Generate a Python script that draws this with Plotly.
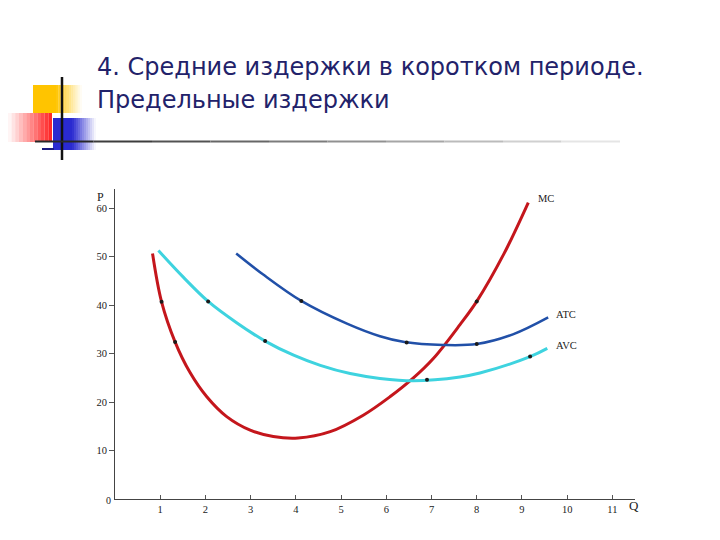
import plotly.graph_objects as go

# curves (Q, P)
mc_q = [0.83, 1.03, 1.33, 1.66, 2.03, 2.47, 2.99, 3.5, 4.05, 4.76, 5.49, 6.08, 6.6, 7.04, 7.63, 8.0, 8.6, 9.14]
mc_p = [50.7, 40.7, 32.4, 26.1, 21.1, 17.0, 14.2, 12.9, 12.6, 13.9, 17.3, 21.1, 25.0, 29.0, 36.0, 40.8, 50.6, 61.2]

atc_q = [2.68, 3.27, 4.12, 5.13, 5.86, 6.4, 7.26, 8.0, 8.8, 9.58]
atc_p = [50.7, 46.4, 40.9, 36.2, 33.6, 32.4, 31.8, 32.0, 34.0, 37.5]

avc_q = [0.96, 1.51, 2.06, 2.69, 3.32, 3.95, 4.54, 5.2, 5.86, 6.6, 7.63, 8.07, 9.18, 9.56]
avc_p = [51.3, 45.8, 40.8, 36.4, 32.6, 29.7, 27.6, 25.9, 24.9, 24.4, 25.2, 26.0, 29.4, 31.1]

# little black marks sitting on the curves
dot_q = [1.03, 1.33, 8.0, 4.12, 6.45, 8.0, 2.06, 3.32, 6.9, 9.18]
dot_p = [40.7, 32.4, 40.8, 40.9, 32.3, 32.0, 40.8, 32.6, 24.6, 29.4]

x_ticks = [1, 2, 3, 4, 5, 6, 7, 8, 9, 10, 11]
y_ticks = [10, 20, 30, 40, 50, 60]

title_1 = "4. Средние издержки в коротком периоде."
title_2 = "Предельные издержки"

# page has an 8px body margin, so the figure is 16px smaller than the window
OFF = 8
W, H = 704, 524
ML, MR, MT, MB = 107, 77, 181, 33
PW, PH = W - ML - MR, H - MT - MB


def px(x):
    return (x - OFF - ML) / PW


def py(y):
    return (H - MB - (y - OFF)) / PH


serif = "Liberation Serif"

fig = go.Figure()
fig.add_trace(go.Scatter(x=mc_q, y=mc_p, mode="lines", line=dict(color="#c4161c", width=3, shape="spline"), hoverinfo="skip"))
fig.add_trace(go.Scatter(x=atc_q, y=atc_p, mode="lines", line=dict(color="#2150a8", width=2.5, shape="spline"), hoverinfo="skip"))
fig.add_trace(go.Scatter(x=avc_q, y=avc_p, mode="lines", line=dict(color="#3ed3df", width=3, shape="spline"), hoverinfo="skip"))
fig.add_trace(go.Scatter(x=dot_q, y=dot_p, mode="markers", marker=dict(color="#1a1a1a", size=4), hoverinfo="skip"))

shapes = []


def rect(x0, y0, x1, y1, color, opacity=1.0):
    shapes.append(dict(type="rect", xref="paper", yref="paper", x0=px(x0), x1=px(x1), y0=py(y1), y1=py(y0),
                       fillcolor=color, opacity=opacity, line=dict(width=0), layer="above"))


def fade(x0, x1, y0, y1, color, left_solid, n=12):
    step = (x1 - x0) / n
    for i in range(n):
        a = (i + 0.5) / n
        op = a if not left_solid else 1 - a
        rect(x0 + i * step, y0, x0 + (i + 1) * step, y1, color, op)


# slide decoration
rect(33, 85, 56, 113, "#ffc400")
fade(56, 82, 85, 113, "#ffc400", True)
fade(8, 52, 113, 142, "#ff2020", False)
rect(53, 118, 72, 150, "#2a2ad0")
fade(72, 96, 118, 150, "#2a2ad0", True)
rect(42, 148, 54, 150, "#1a1a80")
shapes.append(dict(type="line", xref="paper", yref="paper", x0=px(62), x1=px(62), y0=py(77), y1=py(160),
                   line=dict(color="#111111", width=2.5)))
for i in range(10):
    a = 35 + i * 58.5
    g = int(40 + i * 21)
    shapes.append(dict(type="line", xref="paper", yref="paper", x0=px(a), x1=px(a + 58.5), y0=py(141.5), y1=py(141.5),
                       line=dict(color=f"rgb({g},{g},{g})", width=2)))

annotations = [
    dict(text=title_1, x=px(95), y=py(67), xref="paper", yref="paper", xanchor="left", yanchor="middle",
         showarrow=False, font=dict(family="DejaVu Sans", size=24, color="#22226a")),
    dict(text=title_2, x=px(95), y=py(100), xref="paper", yref="paper", xanchor="left", yanchor="middle",
         showarrow=False, font=dict(family="DejaVu Sans", size=24, color="#22226a")),
    dict(text="P", x=px(95), y=py(188), xref="paper", yref="paper", showarrow=False,
         font=dict(family=serif, size=12, color="#222")),
    dict(text="Q", x=px(641), y=py(515), xref="paper", yref="paper", showarrow=False,
         font=dict(family=serif, size=13, color="#222")),
    dict(text="0", x=px(104), y=py(508), xref="paper", yref="paper", showarrow=False,
         font=dict(family=serif, size=10, color="#222")),
    dict(text="MC", x=9.3, y=62.0, xanchor="left", showarrow=False, font=dict(family=serif, size=10.5, color="#222")),
    dict(text="ATC", x=9.7, y=38.0, xanchor="left", showarrow=False, font=dict(family=serif, size=10.5, color="#222")),
    dict(text="AVC", x=9.7, y=31.6, xanchor="left", showarrow=False, font=dict(family=serif, size=10.5, color="#222")),
]

fig.update_layout(
    width=W, height=H, margin=dict(l=ML, r=MR, t=MT, b=MB),
    paper_bgcolor="white", plot_bgcolor="white", showlegend=False,
    shapes=shapes, annotations=annotations,
)
fig.update_xaxes(range=[0, 11.5], tickvals=x_ticks, ticks="inside", ticklen=4, tickcolor="#555",
                 showgrid=False, zeroline=False, showline=True, linecolor="#444", linewidth=1,
                 tickfont=dict(family=serif, size=10.5, color="#222"))
fig.update_yaxes(range=[0, 64], tickvals=y_ticks, ticks="outside", ticklen=5, tickcolor="#555",
                 showgrid=False, zeroline=False, showline=True, linecolor="#444", linewidth=1,
                 tickfont=dict(family=serif, size=10.5, color="#222"))

fig.write_html("out.html")
